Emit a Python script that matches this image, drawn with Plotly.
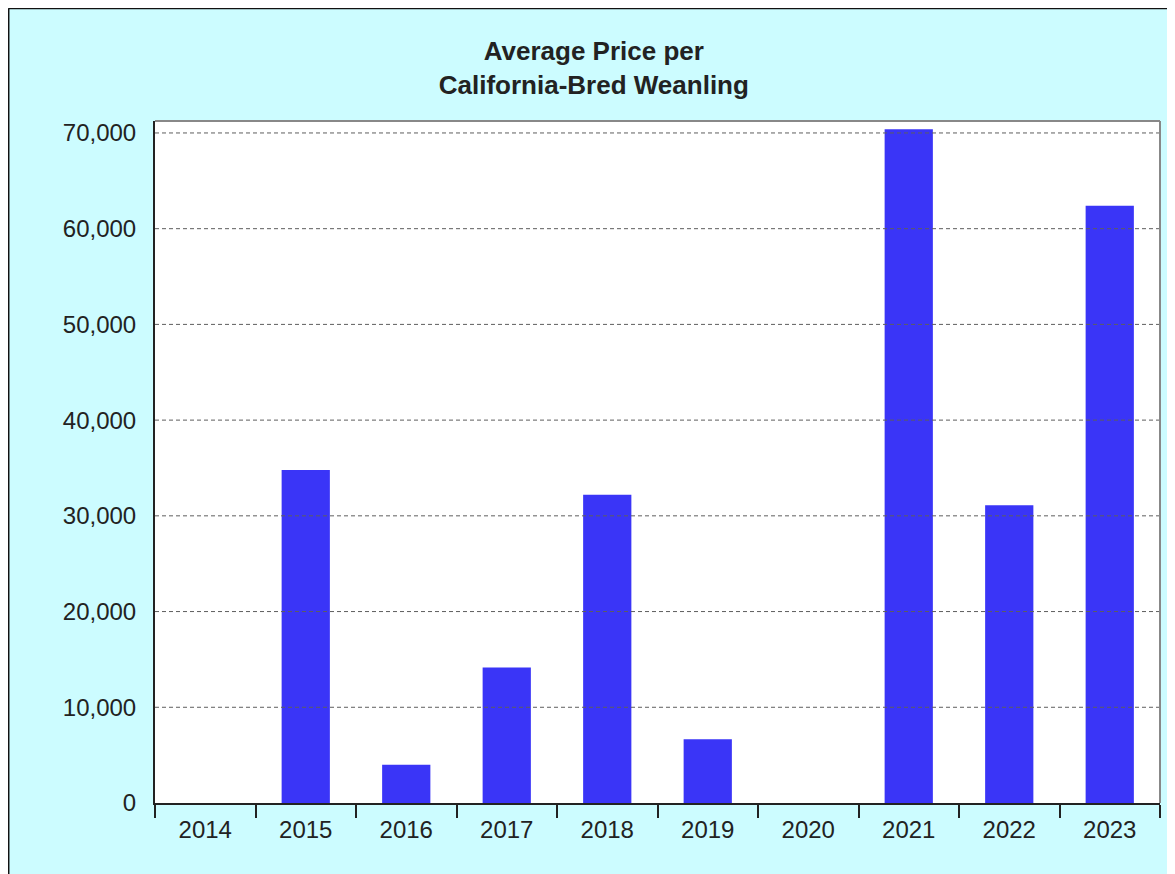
import plotly.graph_objects as go

years = ["2014", "2015", "2016", "2017", "2018", "2019", "2020", "2021", "2022", "2023"]
avg_price = [0, 34800, 4000, 14150, 32200, 6650, 0, 70400, 31100, 62400]
grid_vals = [10000, 20000, 30000, 40000, 50000, 60000, 70000]

fig = go.Figure([
    go.Bar(x=years, y=avg_price, marker_color="#3a35f7", marker_line_width=0)
])

# dashed gridlines drawn over the bars, like the original
for v in grid_vals:
    fig.add_shape(type="line", xref="paper", x0=0, x1=1, yref="y", y0=v, y1=v,
                  line=dict(color="#5e5e5e", width=1, dash="4px,3px"), layer="above")

# outer frame (left and top edges visible)
fig.add_shape(type="line", xref="paper", yref="paper", x0=-0.1458, x1=-0.1458, y0=-0.2, y1=1.1655,
              line=dict(color="#111111", width=2))
fig.add_shape(type="line", xref="paper", yref="paper", x0=-0.1458, x1=1.05, y0=1.1655, y1=1.1655,
              line=dict(color="#111111", width=2))

# gray border on top and right of plot area
fig.add_shape(type="line", xref="paper", yref="paper", x0=0, x1=1, y0=1, y1=1,
              line=dict(color="#888888", width=2))
fig.add_shape(type="line", xref="paper", yref="paper", x0=1, x1=1, y0=0, y1=1,
              line=dict(color="#888888", width=2))

fig.update_layout(
    width=1167, height=866,
    margin=dict(l=147, r=15, t=113, b=71),
    paper_bgcolor="#ccfcff",
    plot_bgcolor="white",
    bargap=0.52,
    showlegend=False,
    font=dict(family="Liberation Sans, Arial, sans-serif", color="#222222", size=24),
    title=dict(text="<b>Average Price per<br>California-Bred Weanling</b>",
               x=0.502, xanchor="center", y=0.940, yanchor="middle",
               font=dict(size=26, color="#222222")),
)
fig.update_xaxes(type="category", tickson="boundaries", ticks="outside", ticklen=13,
                 tickcolor="#222222", tickwidth=2, showline=True, linecolor="#222222", linewidth=2,
                 showgrid=False, ticklabelstandoff=4, tickfont=dict(size=24))
fig.update_yaxes(range=[0, 71250], dtick=10000, tickformat=",", showgrid=False,
                 showline=True, linecolor="#222222", linewidth=2, zeroline=False,
                 ticks="", ticklabelstandoff=12, tickfont=dict(size=24))

fig.write_html("out.html")
